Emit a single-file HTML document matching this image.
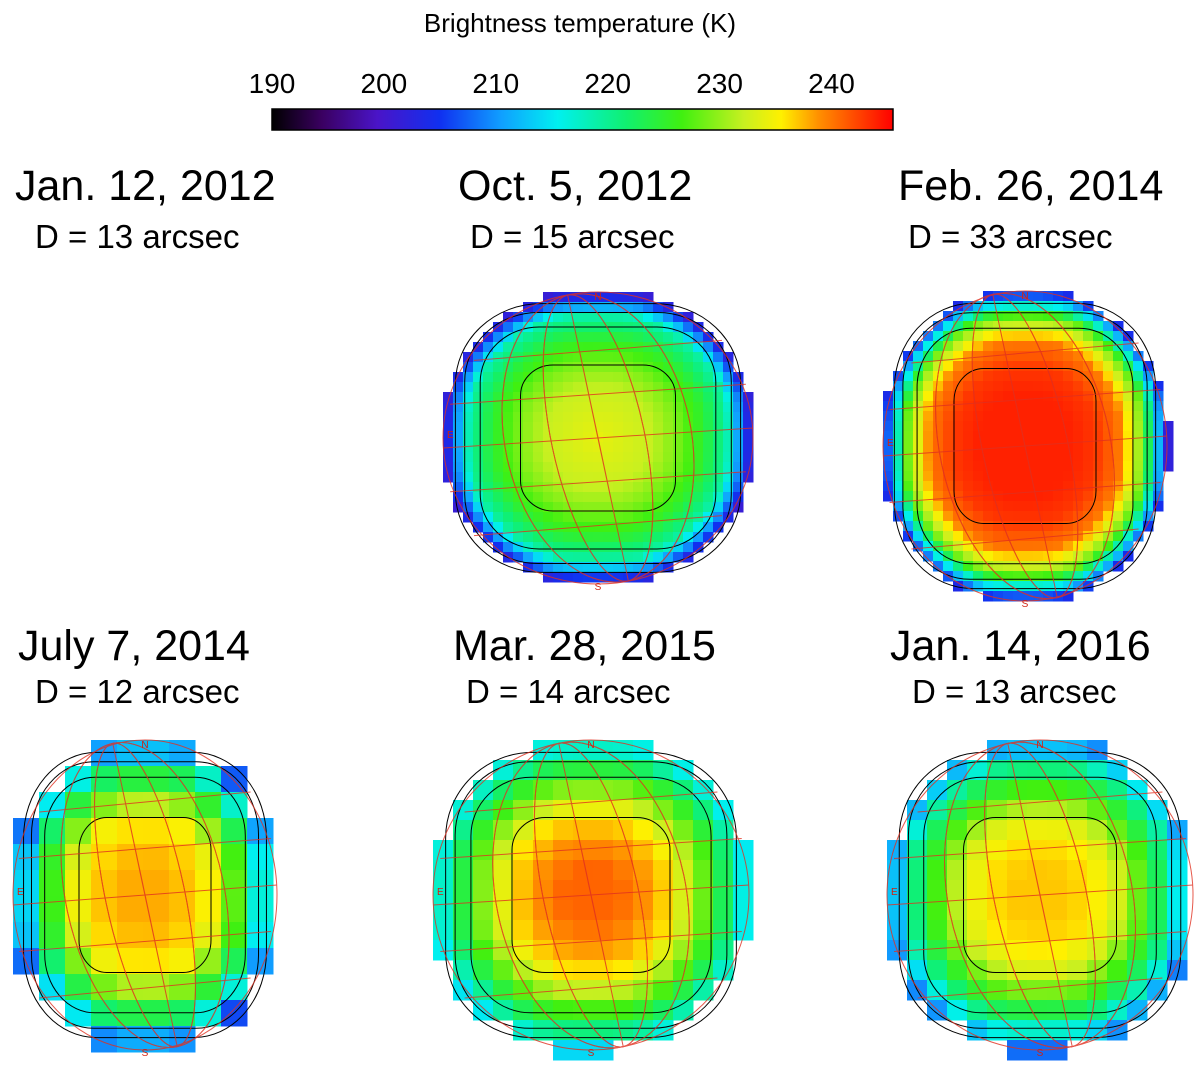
<!DOCTYPE html>
<html><head><meta charset="utf-8"><style>
html,body{margin:0;padding:0;background:#fff;}
svg{display:block;font-family:"Liberation Sans",sans-serif;}
</style></head><body>
<svg id="fig" width="1200" height="1070" viewBox="0 0 1200 1070">
<defs>
<linearGradient id="cbar" x1="0" x2="1" y1="0" y2="0">
<stop offset="0" stop-color="#000000"/><stop offset="0.08" stop-color="#3a0060"/><stop offset="0.17" stop-color="#4a14c8"/>
<stop offset="0.27" stop-color="#1030f0"/><stop offset="0.37" stop-color="#10a0ff"/><stop offset="0.46" stop-color="#00f0f0"/>
<stop offset="0.57" stop-color="#10f070"/><stop offset="0.66" stop-color="#40f010"/><stop offset="0.76" stop-color="#c8f020"/>
<stop offset="0.82" stop-color="#fff000"/><stop offset="0.88" stop-color="#ff9000"/><stop offset="1" stop-color="#ff0000"/>
</linearGradient>
</defs>
<text x="580" y="32" font-size="26" text-anchor="middle">Brightness temperature (K)</text>
<g id="cbg"></g>
<g id="titles"></g>
<g id="disks"></g>
</svg>
<script>
const NS="http://www.w3.org/2000/svg";
const tickLabels=[190,200,210,220,230,240];
const tMin=190, tMax=245.5;
const stopsT=[190,194.5,199.5,205,210.5,215.5,221.5,226.5,232,235.5,239,245.5];
const stopsC=["#000000","#3a0060","#4a14c8","#1030f0","#10a0ff","#00f0f0","#10f070","#40f010","#c8f020","#fff000","#ff9000","#ff0000"];
const panelDates=["Jan. 12, 2012","Oct. 5, 2012","Feb. 26, 2014","July 7, 2014","Mar. 28, 2015","Jan. 14, 2016"];
const panelSizes=["D = 13 arcsec","D = 15 arcsec","D = 33 arcsec","D = 12 arcsec","D = 14 arcsec","D = 13 arcsec"];
// ring temperatures (center -> limb) per disk
const ringOct2012=[234,233,232,229,225,219,200];
const ringFeb2014=[244,244,244,243,240,228,202];
const ringJul2014=[238,238,237,235,228,220,205];
const ringMar2015=[241,241,239,236,230,223,214];
const ringJan2016=[237,237,236,233,227,220,208];
function el(t,a,p){const e=document.createElementNS(NS,t);for(const k in a)e.setAttribute(k,a[k]);p.appendChild(e);return e;}
function hex(c){return [parseInt(c.substr(1,2),16),parseInt(c.substr(3,2),16),parseInt(c.substr(5,2),16)];}
function color(t){t=Math.max(tMin,Math.min(tMax,t));for(let i=0;i<stopsT.length-1;i++){if(t<=stopsT[i+1]){const f=(t-stopsT[i])/(stopsT[i+1]-stopsT[i]);const a=hex(stopsC[i]),b=hex(stopsC[i+1]);return "rgb("+a.map((v,j)=>Math.round(v+(b[j]-v)*f)).join(",")+")";}}return stopsC[stopsC.length-1];}
const cx0=272,cx1=893;
function xScale(t){return cx0+(t-tMin)/(tMax-tMin)*(cx1-cx0);}
const cb=document.getElementById('cbg');
const r=el('rect',{x:cx0,y:109,width:cx1-cx0,height:21,fill:'url(#cbar)',stroke:'#000','stroke-width':1.5},cb);

tickLabels.forEach(v=>{const t=el('text',{x:xScale(v),y:93,'font-size':28,'text-anchor':'middle'},cb);t.textContent=v;
});
const titlePos=[[15,35,200,248],[458,470,200,248],[898,908,200,248],[18,35,660,703],[453,466,660,703],[890,912,660,703]];
const tg=document.getElementById('titles');
panelDates.forEach((d,i)=>{const p=titlePos[i];
const a=el('text',{x:p[0],y:p[2],'font-size':43},tg);a.textContent=d;
const b=el('text',{x:p[1],y:p[3],'font-size':33},tg);b.textContent=panelSizes[i];});
const disks=[
{ring:ringOct2012,cx:598,cy:438,rx:155,ry:146,s:10,name:'disk-oct-2012'},
{ring:ringFeb2014,cx:1025,cy:446,rx:142,ry:155,s:10,name:'disk-feb-2014'},
{ring:ringJul2014,cx:145,cy:895,rx:132,ry:155,s:26,name:'disk-jul-2014'},
{ring:ringMar2015,cx:591,cy:895,rx:158,ry:155,s:20,name:'disk-mar-2015'},
{ring:ringJan2016,cx:1040,cy:895,rx:153,ry:155,s:20,name:'disk-jan-2016'}];
const dg=document.getElementById('disks');
disks.forEach(D=>{const g=el('g',{},dg);
for(let y=D.cy-D.ry;y<D.cy+D.ry;y+=D.s)for(let x=D.cx-D.rx;x<D.cx+D.rx;x+=D.s){
const nx=(x+D.s/2-D.cx)/D.rx,ny=(y+D.s/2-D.cy)/D.ry;const e=Math.sqrt(nx*nx+ny*ny);if(e>1.02)continue;
const rr=Math.pow(Math.pow(Math.abs(nx),2.6)+Math.pow(Math.abs(ny),2.6),1/2.6);
const f=Math.min(Math.max(rr,e*0.97),1)*(D.ring.length-1);const i=Math.min(Math.floor(f),D.ring.length-2);const t=D.ring[i]+(D.ring[i+1]-D.ring[i])*(f-i);
const c=el('rect',{x:x,y:y,width:D.s+0.5,height:D.s+0.5,fill:color(t)},g);
}
[[0.5,0.42],[0.76,0.5],[0.86,0.55],[0.92,0.6]].forEach(([k,q])=>{const e=el('rect',{x:D.cx-D.rx*k,y:D.cy-D.ry*k,width:2*D.rx*k,height:2*D.ry*k,rx:D.rx*k*q,ry:D.ry*k*q,fill:'none',stroke:'#000','stroke-width':1},g);
});
const grid=el('g',{stroke:'#e03020','stroke-width':1,fill:'none',opacity:0.8},g);
el('ellipse',{cx:D.cx,cy:D.cy,rx:D.rx,ry:D.ry},grid);
[-0.6,-0.3,0,0.3,0.6].forEach(k=>{el('ellipse',{cx:D.cx,cy:D.cy,rx:Math.abs(k)*D.rx+0.1,ry:D.ry,transform:`rotate(-12 ${D.cx} ${D.cy})`},grid);
el('line',{x1:D.cx-D.rx*Math.sqrt(1-k*k),y1:D.cy+k*D.ry+10,x2:D.cx+D.rx*Math.sqrt(1-k*k),y2:D.cy+k*D.ry-10},grid);});
const n=el('text',{x:D.cx,y:D.cy-D.ry+8,'font-size':10,fill:'#d02010','text-anchor':'middle'},g);n.textContent='N';
const s=el('text',{x:D.cx,y:D.cy+D.ry+6,'font-size':10,fill:'#d02010','text-anchor':'middle'},g);s.textContent='S';
const e2=el('text',{x:D.cx-D.rx+4,y:D.cy,'font-size':10,fill:'#d02010'},g);e2.textContent='E';
});
</script>
</body></html>
